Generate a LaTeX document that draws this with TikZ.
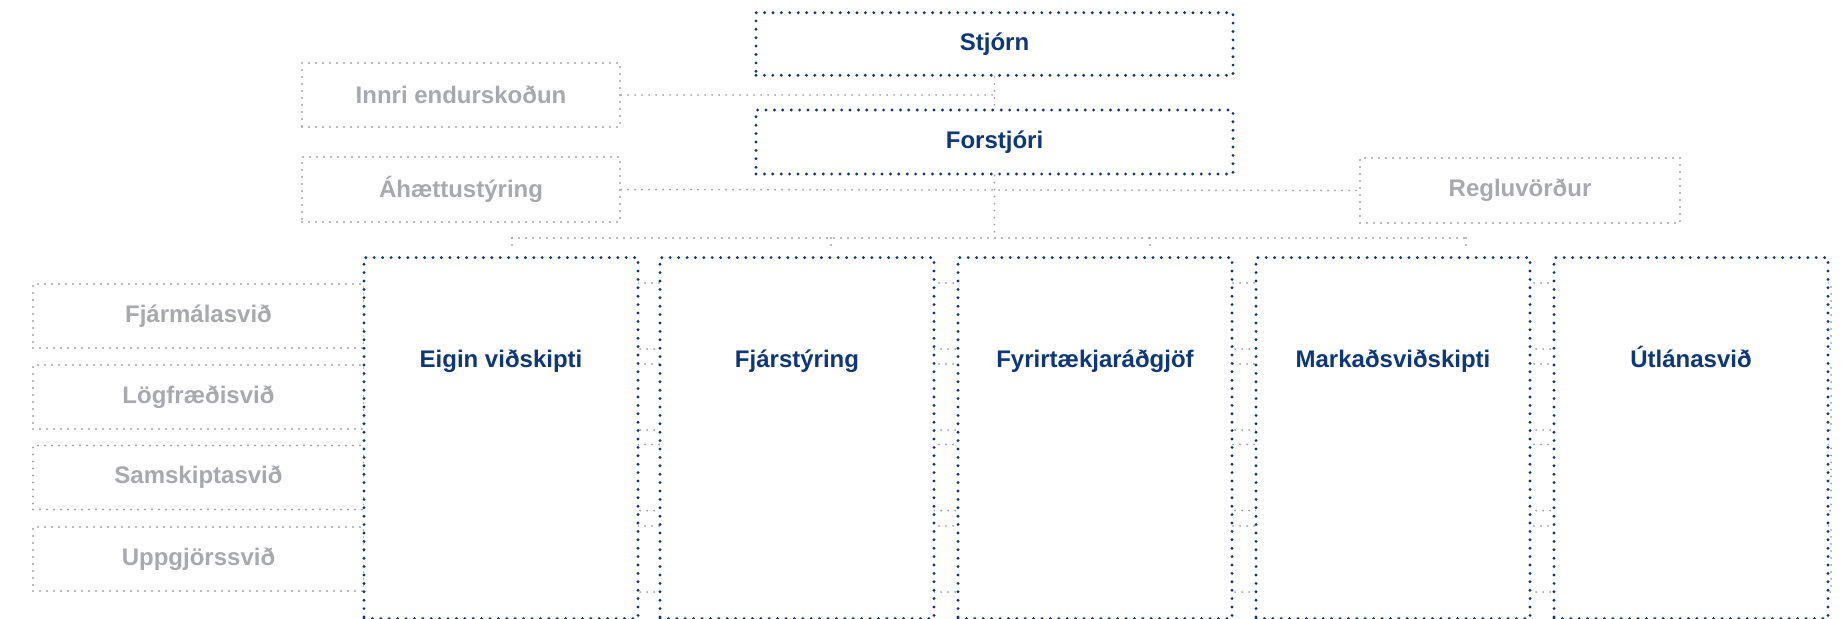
\documentclass[tikz,border=0pt]{standalone}
\usepackage{fontspec}
\setmainfont{Liberation Sans}
\definecolor{navy}{HTML}{0E3779}
\definecolor{greyline}{HTML}{A2A4A7}
\definecolor{greytext}{HTML}{A7A9AC}
\begin{document}
\begin{tikzpicture}[x=1pt,y=-1pt,
  bluedots/.style={draw=navy, line width=3.2pt, line cap=round, dash pattern=on 0pt off 8.4pt},
  greydots/.style={draw=greyline, line width=2.1pt, line cap=round, dash pattern=on 0pt off 7pt},
  bluebox/.style={rectangle, bluedots, fill=white, inner sep=0pt, font=\fontsize{24}{28}\selectfont\bfseries, text=navy},
  greybox/.style={rectangle, greydots, inner sep=0pt, font=\fontsize{24}{28}\selectfont\bfseries, text=greytext},
  unitbox/.style={bluebox, minimum width=274pt, text height=110pt, text depth=251pt, anchor=north},
  sidebox/.style={greybox, minimum width=331pt, minimum height=64pt},
  link/.style={greydots}
]
\useasboundingbox (0,0) rectangle (1843,618);

% top level
\node[greybox, minimum width=318pt, minimum height=64pt] (innri) at (461,95) {Innri endurskoðun};
\node[greybox, minimum width=318pt, minimum height=65pt] (ahaettu) at (461,189.5) {Áhættustýring};
\node[greybox, minimum width=320pt, minimum height=65pt] (reglu) at (1520,190.5) {Regluvörður};

% left side units with lines passing behind the columns
\node[sidebox] (fjarm) at (198.5,316) {Fjármálasvið};
\node[sidebox] (logf) at (198.5,397) {Lögfræðisvið};
\node[sidebox] (samsk) at (198.5,477.5) {Samskiptasvið};
\node[sidebox] (uppgj) at (198.5,559) {Uppgjörssvið};
\foreach \n in {fjarm,logf,samsk,uppgj}{
  \draw[link] (\n.north east) -- ++(1466,0) |- (\n.south east);
}

% bus
\coordinate (b1) at (512,238);
\coordinate (b2) at (831,238);
\coordinate (b3) at (1150,238);
\coordinate (b4) at (1466,238);
\coordinate (d1) at (512,249);
\coordinate (d2) at (831,249);
\coordinate (d3) at (1150,249);
\coordinate (d4) at (1466,249);

\node[bluebox, minimum width=477pt, minimum height=62.6pt] (stjorn) at (994.5,44) {Stjórn};
\node[bluebox, minimum width=477pt, minimum height=64pt] (forstjori) at (994.5,142) {Forstjóri};

\draw[link] (stjorn.south) -- (forstjori.north);
\draw[link] (innri.east) -- (innri.east -| stjorn.south);
\draw[link] (ahaettu.east) -- (reglu.west);
\draw[link] (forstjori.south) -- (forstjori.south |- b1);
\draw[link] (b1) -- (b4);
\draw[link] (b1) -- (d1);
\draw[link] (b2) -- (d2);
\draw[link] (b3) -- (d3);
\draw[link] (b4) -- (d4);

% columns
\node[unitbox] (eigin) at (501,256) {Eigin viðskipti};
\node[unitbox] (fjarst) at (797,256) {Fjárstýring};
\node[unitbox] (fyrir) at (1095,256) {Fyrirtækjaráðgjöf};
\node[unitbox] (markad) at (1393,256) {Markaðsviðskipti};
\node[unitbox] (utlan) at (1691,256) {Útlánasvið};
\end{tikzpicture}
\end{document}
